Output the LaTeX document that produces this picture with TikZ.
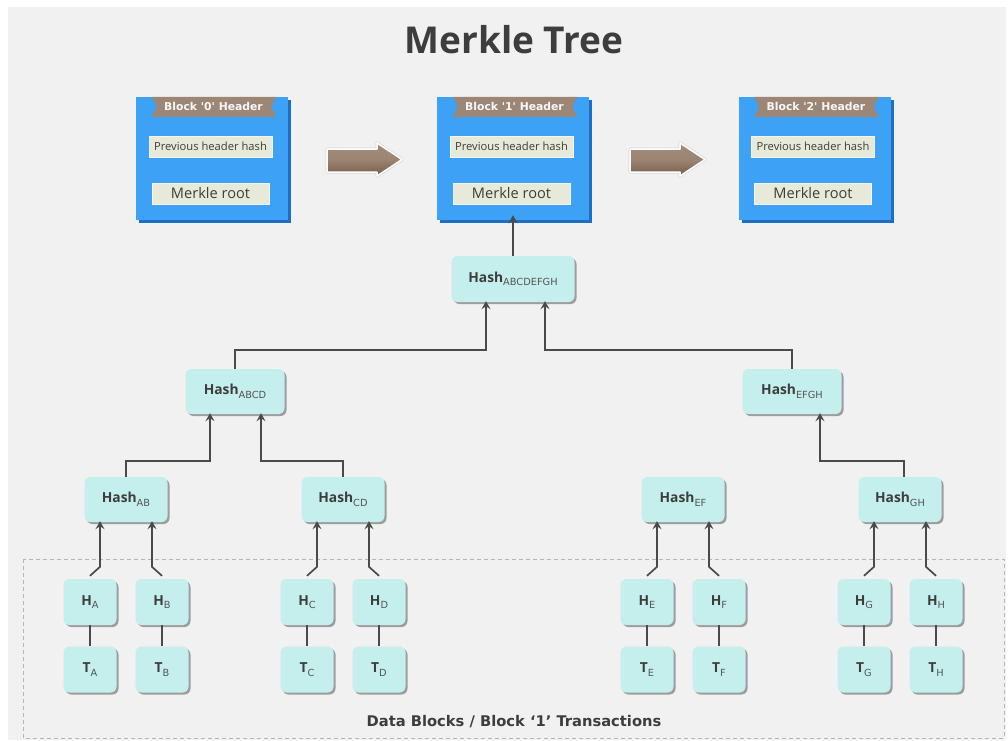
\documentclass[tikz,border=0pt]{standalone}
\usepackage{fontspec}
\setmainfont{Open Sans}
\newfontfamily\widefont{DejaVu Sans}
\usetikzlibrary{arrows.meta,shadows,calc}

\definecolor{panel}{HTML}{F1F1F1}
\definecolor{txt}{HTML}{3D3D3D}
\definecolor{subtxt}{HTML}{555555}
\definecolor{nodecyan}{HTML}{C4EFEC}
\definecolor{blockblue}{HTML}{3DA2F5}
\definecolor{blockdark}{HTML}{1E6FC4}
\definecolor{ribbon}{HTML}{9C8777}
\definecolor{fieldbg}{HTML}{E7E9D9}
\definecolor{fieldline}{HTML}{F4F5EC}
\definecolor{linegray}{HTML}{4A4A4A}
\definecolor{dashcol}{HTML}{BDB5AD}
\definecolor{arrtop}{HTML}{A38B79}
\definecolor{arrbot}{HTML}{765C4B}

% subscript used in the hash labels
\newcommand\hsub[1]{\raisebox{-3.6pt}{\widefont\fontsize{9.8}{10}\fontseries{m}\selectfont\color{subtxt}#1}}

% one block header: name, centre x, label
\newcommand\hdrblock[3]{%
  \node[blk] (#1) at (#2,158.5) {};
  \fill[ribbon] ($(#1.north west)+(16,0)$) -- ($(#1.north east)+(-12,0)$)
     -- ($(#1.north east)+(-17,10)$) -- ($(#1.north east)+(-12,20)$)
     -- ($(#1.north west)+(16,20)$) -- ($(#1.north west)+(21,10)$) -- cycle;
  \node[font=\widefont\bfseries\fontsize{10.8}{11}\selectfont, text=white!93!ribbon] (#1t)
     at ($(#1.north)+(1.5,10)$) {#3};
  \node[field, minimum width=123pt, font=\fontsize{11.2}{12}\selectfont] (#1p)
     at ($(#1.center)+(-1.5,-12)$) {Previous header hash};
  \node[field, minimum width=117pt, font=\fontsize{14.6}{15}\selectfont] (#1r)
     at ($(#1.center)+(-1.5,35)$) {Merkle root};
}

% block arrow between two headers, starting at x
\newcommand\blkarrow[1]{%
  \begin{scope}[xshift=#1pt]
    \draw[black!12, line width=3.5pt, line join=round]
      (0,149) -- (50,149) -- (50,143) -- (75,159.5) -- (50,176) -- (50,172) -- (0,172) -- cycle;
    \shade[top color=arrtop, bottom color=arrbot, middle color=arrtop!85!arrbot,
           draw=white, line width=1.5pt, line join=round]
      (0,149) -- (50,149) -- (50,143) -- (75,159.5) -- (50,176) -- (50,172) -- (0,172) -- cycle;
  \end{scope}
}

\tikzset{
  blk/.style={minimum width=152pt, minimum height=123pt, inner sep=0pt,
    fill=blockblue, drop shadow={shadow xshift=3pt, shadow yshift=-3pt,
    fill=blockdark, opacity=1}},
  field/.style={fill=fieldbg, draw=fieldline, line width=0.6pt, minimum height=21pt,
    inner sep=0pt, text=txt},
  hbox/.style={rounded corners=6pt, fill=nodecyan, text=txt, inner sep=0pt,
    font=\bfseries\fontsize{13.8}{14}\selectfont,
    drop shadow={shadow xshift=2pt, shadow yshift=-2pt, fill=black!60, opacity=.6}},
  lvl0/.style={hbox, minimum width=123pt, minimum height=46pt},
  lvl1/.style={hbox, minimum width=99pt, minimum height=45pt},
  lvl2/.style={hbox, minimum width=83pt, minimum height=45pt},
  leaf/.style={hbox, minimum width=53pt, minimum height=46pt},
  arr/.style={draw=linegray, line width=1.7pt,
    -{Stealth[length=8pt,width=9pt,inset=3pt]}},
  conn/.style={draw=linegray, line width=1.7pt},
}

\begin{document}
\begin{tikzpicture}[x=1pt, y=-1pt]
\useasboundingbox (0,0) rectangle (1008,740);
\fill[white] (0,0) rectangle (1008,740);
\fill[panel] (8,7) rectangle (1006,740);

\node[font=\bfseries\fontsize{37}{40}\selectfont, text=txt] (title) at (514,40) {Merkle Tree};

% block headers
\hdrblock{b0}{212}{Block '0' Header}
\hdrblock{b1}{513}{Block '1' Header}
\hdrblock{b2}{814.5}{Block '2' Header}
\blkarrow{327}
\blkarrow{630}

% data block area
\draw[dashcol, line width=1pt, dash pattern=on 4pt off 3pt] (23,559) rectangle (1004,738);
\node[font=\widefont\bfseries\fontsize{14.7}{15}\selectfont, text=txt] (data) at (514,722)
  {Data Blocks / Block ‘1’ Transactions};

% hash tree
\node[lvl0] (root) at (513,279) {Hash\hsub{ABCDEFGH}};
\node[lvl1] (hABCD) at (235,391.5) {Hash\hsub{ABCD}};
\node[lvl1] (hEFGH) at (792,391.5) {Hash\hsub{EFGH}};
\node[lvl2] (hAB) at (126,499.5) {Hash\hsub{AB}};
\node[lvl2] (hCD) at (343,499.5) {Hash\hsub{CD}};
\node[lvl2] (hEF) at (683,499.5) {Hash\hsub{EF}};
\node[lvl2] (hGH) at (900,499.5) {Hash\hsub{GH}};

\foreach \n/\x in {A/90,B/162,C/307,D/379,E/647,F/719,G/864,H/936}{
  \node[leaf] (h\n) at (\x,602) {H\hsub{\n}};
  \node[leaf] (t\n) at (\x,669.5) {T\hsub{\n}};
  \draw[conn] (h\n.south) -- (t\n.north);
}

% leaves into pair hashes
\foreach \l/\r/\p in {A/B/hAB, C/D/hCD, E/F/hEF, G/H/hGH}{
  \draw[arr] ($(h\l.north)+(0,-3)$) -- ++(10,-9) -- ($(\p.south)+(-26,-1)$);
  \draw[arr] ($(h\r.north)+(0,-3)$) -- ++(-10,-9) -- ($(\p.south)+(26,-1)$);
}

% pair hashes upwards
\draw[arr] (hAB.north) -- ++(0,-16) -| ($(hABCD.south)+(-25,-1)$);
\draw[arr] (hCD.north) -- ++(0,-16) -| ($(hABCD.south)+(26,-1)$);
\draw[arr] ($(hGH.north)+(4,0)$) -- ++(0,-16) -| ($(hEFGH.south)+(28,-1)$);
\draw[arr] (hABCD.north) -- ++(0,-19) -| ($(root.south)+(-27,-1)$);
\draw[arr] (hEFGH.north) -- ++(0,-19) -| ($(root.south)+(32,-1)$);
\draw[arr] (root.north) -- ($(b1.south)+(0,-5)$);
\end{tikzpicture}
\end{document}
